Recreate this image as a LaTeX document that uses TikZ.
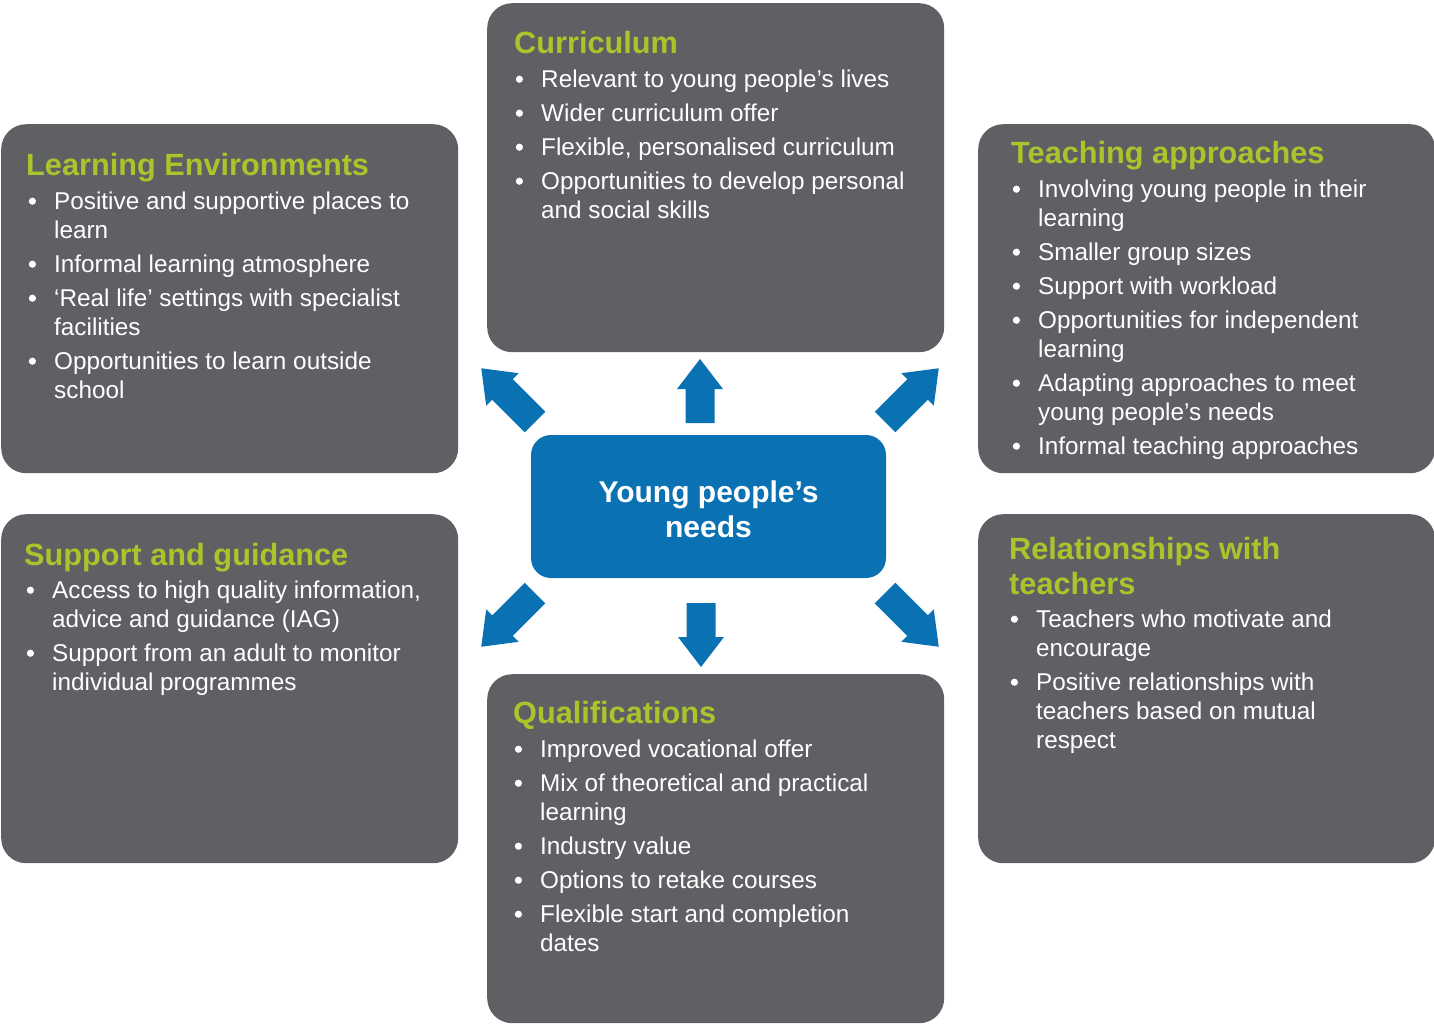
\documentclass[tikz,border=0pt]{standalone}
\usepackage{fontspec}
\setmainfont{Liberation Sans}
\definecolor{boxgray}{HTML}{5E6064}
\definecolor{titlegreen}{HTML}{AAC52B}
\definecolor{needblue}{HTML}{0A71B3}
\newcommand\bu{\makebox[26pt][l]{\hspace{0.6pt}\raisebox{4.2pt}{\tikz\fill[white] (0pt,0pt) circle (3.6pt);}}}
\newcommand\ind{\hspace*{26pt}}
\begin{document}
\begin{tikzpicture}[x=1pt,y=-1pt,
  infobox/.style={fill=boxgray, draw=none, rounded corners=25pt, minimum width=457pt, minimum height=349pt, anchor=north west, inner sep=0pt},
  boxtitle/.style={anchor=base west, inner sep=0pt, text=titlegreen, font=\fontsize{30.7}{35}\selectfont\bfseries},
  boxbody/.style={anchor=base west, inner sep=0pt, text=white, font=\fontsize{24.3}{29}\selectfont},
  centerbox/.style={fill=needblue, rounded corners=20pt, minimum width=355pt, minimum height=143pt, inner sep=0pt},
  centertext/.style={inner sep=0pt, text=white, align=center, font=\fontsize{30}{35}\selectfont\bfseries},
  blockarrow/.style={fill=needblue, draw=none}
]
\useasboundingbox (0,0) rectangle (1434,1026);
\newcommand\barrow[4]{% base x, base y, angle, length
  \begin{scope}[shift={(#1,#2)}, rotate=#3]
    \fill[blockarrow] (0,-14.5) -- ({#4-30},-14.5) -- ({#4-30},-23) -- (#4,0) -- ({#4-30},23) -- ({#4-30},14.5) -- (0,14.5) -- cycle;
  \end{scope}}

% boxes
\node[infobox] (cur) at (487,3) {};
\node[infobox] (lenv) at (1,124) {};
\node[infobox] (teach) at (978,124) {};
\node[infobox] (supp) at (1,514) {};
\node[infobox] (rel) at (978,514) {};
\node[infobox] (qual) at (487,674) {};

% centre
\node[centerbox] (needs) at (708.5,506.5) {};
\node[centertext] (needsT) at (708.5,509) {Young people’s\\needs};

% arrows
\barrow{700}{423}{90}{64}
\barrow{701}{603}{270}{64}
\barrow{535}{422}{135}{76}
\barrow{885}{422}{45}{76}
\barrow{535}{593}{225}{76}
\barrow{885}{593}{315}{76}

% Curriculum
\node[boxtitle] (curT) at (514,53) {Curriculum};
\node[boxbody] (curB) at (515,87) {\begin{tabular}[t]{@{}l@{}}
\bu Relevant to young people’s lives\\[5pt]
\bu Wider curriculum offer\\[5pt]
\bu Flexible, personalised curriculum\\[5pt]
\bu Opportunities to develop personal\\
\ind and social skills
\end{tabular}};

% Learning Environments
\node[boxtitle] (lenvT) at (26,175) {Learning Environments};
\node[boxbody] (lenvB) at (28,209) {\begin{tabular}[t]{@{}l@{}}
\bu Positive and supportive places to\\
\ind learn\\[5pt]
\bu Informal learning atmosphere\\[5pt]
\bu ‘Real life’ settings with specialist\\
\ind facilities\\[5pt]
\bu Opportunities to learn outside\\
\ind school
\end{tabular}};

% Teaching approaches
\node[boxtitle] (teachT) at (1011,163) {Teaching approaches};
\node[boxbody] (teachB) at (1012,197) {\begin{tabular}[t]{@{}l@{}}
\bu Involving young people in their\\
\ind learning\\[5pt]
\bu Smaller group sizes\\[5pt]
\bu Support with workload\\[5pt]
\bu Opportunities for independent\\
\ind learning\\[5pt]
\bu Adapting approaches to meet\\
\ind young people’s needs\\[5pt]
\bu Informal teaching approaches
\end{tabular}};

% Support and guidance
\node[boxtitle] (suppT) at (24,565) {Support and guidance};
\node[boxbody] (suppB) at (26,598) {\begin{tabular}[t]{@{}l@{}}
\bu Access to high quality information,\\
\ind advice and guidance (IAG)\\[5pt]
\bu Support from an adult to monitor\\
\ind individual programmes
\end{tabular}};

% Relationships with teachers
\node[boxtitle] (relT) at (1009,559) {\begin{tabular}[t]{@{}l@{}}Relationships with\\teachers\end{tabular}};
\node[boxbody] (relB) at (1010,627) {\begin{tabular}[t]{@{}l@{}}
\bu Teachers who motivate and\\
\ind encourage\\[5pt]
\bu Positive relationships with\\
\ind teachers based on mutual\\
\ind respect
\end{tabular}};

% Qualifications
\node[boxtitle] (qualT) at (513,723) {Qualifications};
\node[boxbody] (qualB) at (514,757) {\begin{tabular}[t]{@{}l@{}}
\bu Improved vocational offer\\[5pt]
\bu Mix of theoretical and practical\\
\ind learning\\[5pt]
\bu Industry value\\[5pt]
\bu Options to retake courses\\[5pt]
\bu Flexible start and completion\\
\ind dates
\end{tabular}};
\end{tikzpicture}
\end{document}
